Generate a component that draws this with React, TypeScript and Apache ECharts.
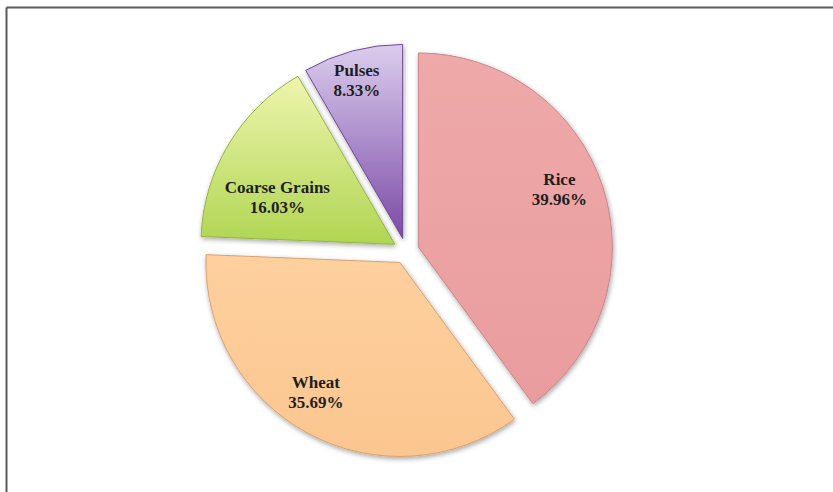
import React, { useEffect, useRef } from "react";
import * as echarts from "echarts";

const categories = ["Rice", "Wheat", "Coarse Grains", "Pulses"];
const shares = [39.96, 35.69, 16.03, 8.33];

const sliceColors = [
  { top: "#EFA9A9", bottom: "#E99C9E", border: "#C98486" },
  { top: "#FED09E", bottom: "#FBC690", border: "#D9A070" },
  { top: "#EEF5AE", bottom: "#B0D552", border: "#97B440" },
  { top: "#DCCDEE", bottom: "#7A4BA6", border: "#6C4A94" },
];
const labelOffsets: [number, number][] = [
  [46, -26],
  [-37, 42],
  [-32, 5],
  [-20, -61],
];

export default function App() {
  const ref = useRef<HTMLDivElement>(null);
  useEffect(() => {
    if (!ref.current) return;
    const chart = echarts.init(ref.current, undefined, { renderer: "svg" });
    const data = categories.map((name, i) => ({
      name,
      value: shares[i],
      selected: true,
      itemStyle: {
        color: new echarts.graphic.LinearGradient(0, 0, 0, 1, [
          { offset: 0, color: sliceColors[i].top },
          { offset: 1, color: sliceColors[i].bottom },
        ]),
        borderColor: sliceColors[i].border,
        borderWidth: 1,
        shadowBlur: 5,
        shadowColor: "rgba(0,0,0,0.35)",
        shadowOffsetX: 1,
        shadowOffsetY: 2,
      },
    }));
    chart.setOption({
      animation: false,
      backgroundColor: "#ffffff",
      graphic: [
        {
          type: "line",
          shape: { x1: 6.5, y1: 7.5, x2: 6.5, y2: 492 },
          style: { stroke: "#5a5a5a", lineWidth: 2 },
        },
        {
          type: "line",
          shape: { x1: 6.5, y1: 7.5, x2: 833, y2: 7.5 },
          style: { stroke: "#5a5a5a", lineWidth: 2 },
        },
      ],
      series: [
        {
          type: "pie",
          center: [406, 251],
          radius: [0, 194],
          startAngle: 90,
          clockwise: true,
          selectedMode: "multiple",
          selectedOffset: 13,
          avoidLabelOverlap: false,
          emphasis: { disabled: true },
          label: {
            show: true,
            position: "inside",
            formatter: (p: any) => `${p.name}\n${p.value.toFixed(2)}%`,
            fontFamily: "Liberation Serif",
            fontWeight: "bold",
            fontSize: 17,
            lineHeight: 20,
            color: "#1e1e1e",
          },
          labelLayout: (p: any) => ({
            dx: labelOffsets[p.dataIndex][0],
            dy: labelOffsets[p.dataIndex][1],
          }),
          labelLine: { show: false },
          data,
        },
      ],
    });
    return () => chart.dispose();
  }, []);
  return (
    <div
      ref={ref}
      style={{ position: "fixed", left: 0, top: 0, width: 833, height: 492 }}
    />
  );
}
